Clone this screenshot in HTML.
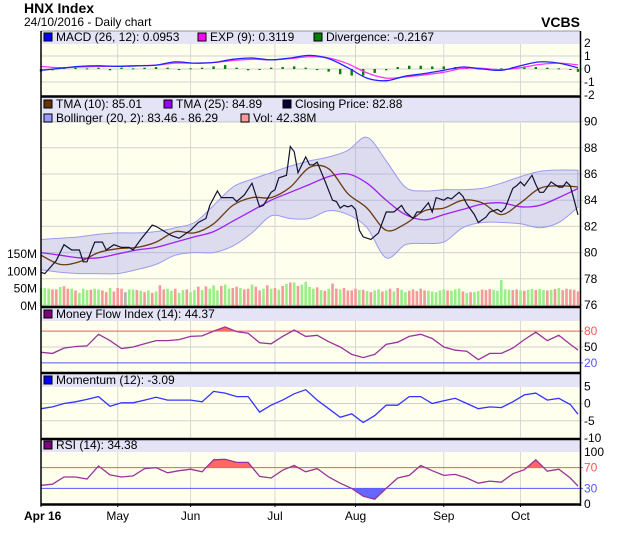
<!DOCTYPE html>
<html><head><meta charset="utf-8"><style>
html,body{margin:0;padding:0;background:#fff;}
svg{display:block;font-family:"Liberation Sans",sans-serif;}
</style></head><body>
<svg id="chart" width="620" height="535" viewBox="0 0 620 535" xmlns="http://www.w3.org/2000/svg">
<text x="24" y="13" font-size="14" font-weight="bold" fill="#000">HNX Index</text>
<text x="24" y="26" font-size="12" fill="#000">24/10/2016 - Daily chart</text>
<text x="580" y="27" font-size="14" font-weight="bold" text-anchor="end" fill="#000">VCBS</text>
<g id="layer"></g>
</svg>
<script>
// ---------- data ----------
const monthLabels = ["Apr 16","May","Jun","Jul","Aug","Sep","Oct"];
const monthDays = [0,20,39,61,82,105,125];
const closeDays = [0,1,4,6,8,10,11,12,14,16,17,19,21,23,24,26,29,30,34,36,38,39,41,43,44,46,47,50,51,53,55,57,58,60,61,62,64,65,66,67,69,70,71,72,74,76,77,78,79,80,81,82,83,84,86,88,90,92,94,95,97,98,99,101,102,103,105,106,107,109,110,111,113,114,116,117,119,120,121,123,124,125,126,128,129,130,131,133,135,136,137,138,139,140];
const closeVals = [78.5,78.4,79.4,80.6,80.2,80.2,79.3,79.3,80.8,80.8,80.2,80.6,80.4,80.4,80.2,81.0,82.1,82.0,81.3,81.1,81.5,81.7,82.3,82.6,83.6,84.7,84.2,84.2,83.9,84.4,85.3,83.5,83.6,84.6,84.8,85.7,85.9,88.1,87.7,86.1,87.3,86.7,86.7,86.9,85.5,84.0,83.9,83.4,83.6,83.5,83.6,83.3,81.7,81.2,81.0,81.5,83.1,83.1,83.6,83.1,82.6,83.1,83.1,83.8,83.1,84.2,84.0,84.2,84.1,84.6,84.3,83.7,82.9,82.3,82.7,83.1,83.3,83.1,83.4,84.9,85.1,85.4,85.1,85.9,85.2,84.6,84.6,85.4,85.0,85.0,85.4,85.1,84.0,82.88];
// sampled every 5 trading days (day 0..140)
const tma10 = [79.8,79.1,79.3,80.0,80.3,80.4,80.8,81.6,81.5,82.2,83.6,84.2,84.2,85.0,86.5,86.4,84.5,83.4,81.7,82.2,83.2,83.4,84.0,83.8,82.9,83.8,84.9,85.1,85.01];
const tma25 = [80.0,79.8,79.6,79.6,79.9,80.2,80.4,80.8,81.2,81.6,82.4,83.2,84.0,84.6,85.2,85.8,86.0,85.3,84.0,82.9,82.5,82.9,83.3,83.7,83.8,83.5,83.6,84.2,84.89];
const bbUpper = [81.0,81.1,81.2,81.4,81.5,81.5,81.6,81.9,82.3,83.6,85.0,85.6,86.1,86.6,87.0,87.3,87.8,88.8,87.0,85.0,84.7,84.8,84.8,84.9,85.3,85.8,86.2,86.3,86.29];
const bbLower = [78.7,78.5,78.4,78.4,78.4,78.7,79.1,79.8,80.0,80.0,80.5,81.5,82.8,82.6,82.6,83.2,82.9,81.9,79.6,80.6,80.7,80.8,81.9,82.3,82.3,82.2,81.9,82.3,83.46];
const macdVals = [-0.1,0.05,0.2,0.25,0.2,0.25,0.3,0.55,0.45,0.5,0.75,0.85,0.7,0.85,1.05,0.8,0.1,-0.7,-0.9,-0.55,-0.35,-0.1,0.15,0,-0.1,0.25,0.55,0.45,0.0953];
const expVals = [0.2,0.1,0.15,0.2,0.22,0.25,0.3,0.45,0.45,0.5,0.65,0.75,0.7,0.8,0.95,0.85,0.4,-0.3,-0.7,-0.6,-0.45,-0.25,0.05,0.05,-0.05,0.1,0.35,0.45,0.3119];
// sampled every 3 trading days (day 0..138) plus last day 140
const divergenceVals = [-0.2,-0.1,0.1,0.1,0.05,0.1,-0.1,0.1,0.05,0.1,0.15,0.1,-0.05,0.05,0.1,0.2,0.3,0.1,-0.1,-0.05,0.1,0.15,0.2,0.1,0,-0.2,-0.4,-0.5,-0.5,-0.3,-0.1,0.15,0.25,0.25,0.2,0.2,0.15,0.1,0.05,-0.05,0.05,0.15,0.2,0.15,0.1,0.05,-0.05,-0.2167];
const mfiVals = [40,38,48,51,52,74,62,47,50,56,62,62,64,70,71,80,88,79,76,58,56,70,82,70,72,60,50,36,30,36,55,59,70,74,66,50,44,42,26,38,38,48,64,78,62,72,55,44.37];
const momentumVals = [-1.5,-1,0,0.5,1.2,2,-0.8,0.2,0.2,1,1.8,1,1,1,0.5,3.5,3,2,2,-2.5,-0.5,1,2.8,4,1,-1.5,-4,-3,-5.5,-3.5,-0.5,-0.5,2,2,0,0.8,1.5,0,-1.5,-1,-1.2,0.5,2.5,3,1,1.5,-0.3,-3.09];
const rsiVals = [36,38,52,52,48,73,56,52,54,68,70,60,64,67,62,85,86,80,80,53,50,65,74,62,68,52,40,30,15,9,30,50,55,74,64,55,57,50,40,44,42,58,66,85,63,67,50,34.38];
// daily volume (millions) and direction (g up, r down, n unchanged)
const volumeVals = [52,52,50,48,48,55,57,50,50,45,38,50,46,47,50,48,45,40,52,42,
52,50,40,48,48,46,44,40,45,38,42,60,48,50,44,50,38,46,48,40,
46,56,46,57,50,60,45,58,62,50,52,56,52,48,50,62,56,45,50,60,
50,52,47,58,64,68,68,58,62,70,55,50,54,46,44,50,65,50,48,52,
45,45,50,46,47,43,40,45,48,42,45,50,42,52,47,40,44,48,43,50,
45,44,42,40,45,48,45,44,48,50,42,38,40,40,43,48,46,49,47,44,
75,48,47,46,48,45,44,47,49,46,49,46,45,47,49,52,46,50,48,47,42.38];
const volumeDir = "gggrrgrrgrgggrggrrgrrrnggrgrgrgrrggrggrg"+"grgrgggrggrrgrrgrrgrgrgrgrgrggggrgrgrrgrr"+"rrgrgrggrgrgrggrrrrrgggggrgggrgrggrrrgg"+"gggrrgrggrggrgrgrr";
const macdTicks = [2,1,0,-1,-2];
const priceTicks = [90,88,86,84,82,80,78,76];
const volTicks = [150,100,50,0];
const mfiTicks = [80,50,20];
const momTicks = [5,0,-5,-10];
const rsiTicks = [100,70,30,0];

// ---------- layout ----------
const NS="http://www.w3.org/2000/svg";
const L=41, R=580, NDAYS=140;
const xDay = d => L + d*(R-2-L)/NDAYS;
const yMacd = v => 69 - v*13;
const yPrice = v => 305 - (v-76)*13.1;
const yVol = v => 306 - v*0.346;
const yMfi = v => 347 - (v-50)*0.53;
const yMom = v => 403.5 - v*3.45;
const yRsi = v => 504 - v*0.52;
const days5 = tma10.map((_,i)=>Math.min(i*5,NDAYS));
const days3 = mfiVals.map((_,i)=> i===mfiVals.length-1 ? NDAYS : i*3);
const layer=document.getElementById('layer');
function el(tag, attrs, parent){const e=document.createElementNS(NS,tag);for(const k in attrs)e.setAttribute(k,attrs[k]);(parent||layer).appendChild(e);return e;}
function linePath(days, vals, yf){return days.map((d,i)=>(i?'L':'M')+xDay(d).toFixed(1)+','+yf(vals[i]).toFixed(1)).join(' ');}
function smoothPts(days, vals, yf){
  const p=days.map((d,i)=>[xDay(d),yf(vals[i])]);
  let s='M'+p[0][0].toFixed(1)+','+p[0][1].toFixed(1);
  for(let i=0;i<p.length-1;i++){
    const p0=p[Math.max(0,i-1)],p1=p[i],p2=p[i+1],p3=p[Math.min(p.length-1,i+2)];
    const c1=[p1[0]+(p2[0]-p0[0])/6,p1[1]+(p2[1]-p0[1])/6];
    const c2=[p2[0]-(p3[0]-p1[0])/6,p2[1]-(p3[1]-p1[1])/6];
    s+=' C'+c1[0].toFixed(1)+','+c1[1].toFixed(1)+' '+c2[0].toFixed(1)+','+c2[1].toFixed(1)+' '+p2[0].toFixed(1)+','+p2[1].toFixed(1);
  }
  return s;
}
function panel(name, top, headEnd, bottom){
  const g=el('g',{});
  
  
  const bg=el('rect',{x:L,y:top,width:R-L,height:bottom-top,fill:'#ffffee'},g);
  
  
  const hb=el('rect',{x:L,y:top,width:R-L,height:headEnd-top,fill:'#e4e4f6'},g);
  
  
  return g;
}
function hgrid(g, y){el('line',{x1:L,x2:R+3,y1:y,y2:y,stroke:'#d0d0d0','stroke-width':1},g);}
function vgrid(g, top, bottom){monthDays.forEach((d,i)=>{if(i>0)el('line',{x1:xDay(d),x2:xDay(d),y1:top,y2:bottom,stroke:'#d6d6d6','stroke-width':1},g);});}
function axisLabel(txt, y, color, name){
  const t=el('text',{x:584,y:y+4,'font-size':12,fill:color||'#000'});
  t.textContent=txt;
  
  
}
function legend(g, x, y, color, label, name){
  const s=el('rect',{x:x,y:y-8,width:8,height:8,fill:color,stroke:'#000','stroke-width':1},g);
  
  
  const t=el('text',{x:x+12,y:y,'font-size':12,fill:'#000'},g);
  t.textContent=label;
  
  
}

// ---------- MACD panel ----------
const gM=panel('macd-panel',31,44,96);
vgrid(gM,44,96);
macdTicks.forEach(v=>{if(v<2&&v>-2)hgrid(gM,yMacd(v));axisLabel(String(v),yMacd(v),'#000','macd-tick-'+v);});
divergenceVals.forEach((v,i)=>{
  const x=xDay(days3[i]); const y0=yMacd(0), y1=yMacd(v);
  const b=el('rect',{x:x-1.2,y:Math.min(y0,y1),width:2.4,height:Math.max(1,Math.abs(y1-y0)),fill:'#008000'},gM);
  
  
});
let p=el('path',{d:smoothPts(days5,expVals,yMacd),fill:'none',stroke:'#ff33ff','stroke-width':1.3},gM);


p=el('path',{d:smoothPts(days5,macdVals,yMacd),fill:'none',stroke:'#2222ff','stroke-width':1.3},gM);


legend(gM,44,41,'#0000ff','MACD (26, 12): 0.0953','macd-legend');
legend(gM,198,41,'#ff00ff','EXP (9): 0.3119','exp-legend');
legend(gM,314,41,'#008000','Divergence: -0.2167','divergence-legend');

// ---------- price panel ----------
const gP=panel('price-panel',97,123,306);
vgrid(gP,123,306);
priceTicks.forEach(v=>{hgrid(gP,yPrice(v));axisLabel(String(v),yPrice(v),'#000','price-tick-'+v);});
volTicks.forEach(v=>{const t=el('text',{x:37,y:yVol(v)+4,'font-size':12,'text-anchor':'end',fill:'#000'});t.textContent=v+'M';});
volumeVals.forEach((v,i)=>{
  const c=volumeDir[i]==='g'?'#99ee88':(volumeDir[i]==='n'?'#b0b0b0':'#f59a9a');
  const b=el('rect',{x:xDay(i)-1.3,y:yVol(v),width:2.6,height:306-yVol(v),fill:c},gP);
  
  
});
const upPath=smoothPts(days5,bbUpper,yPrice);
const loRev=smoothPts(days5.slice().reverse(),bbLower.slice().reverse(),yPrice).replace(/^M/,'L');
p=el('path',{d:upPath+' '+loRev+' Z',fill:'rgba(150,150,240,0.33)',stroke:'#9a9af0','stroke-width':1},gP);


p=el('path',{d:smoothPts(days5,tma25,yPrice),fill:'none',stroke:'#a020f0','stroke-width':1.3},gP);


p=el('path',{d:smoothPts(days5,tma10,yPrice),fill:'none',stroke:'#6b3a10','stroke-width':1.3},gP);


p=el('path',{d:linePath(closeDays,closeVals,yPrice),fill:'none',stroke:'#111133','stroke-width':1.2},gP);


legend(gP,44,108,'#663300','TMA (10): 85.01','tma10-legend');
legend(gP,164,108,'#9900ff','TMA (25): 84.89','tma25-legend');
legend(gP,283,108,'#000033','Closing Price: 82.88','closing-price-legend');
legend(gP,44,122,'#9999ff','Bollinger (20, 2): 83.46 - 86.29','bollinger-legend');
legend(gP,241,122,'#ff9999','Vol: 42.38M','volume-legend');

// ---------- oscillator helper ----------
function osc(name, top, headEnd, bottom, vals, yf, ticks, color, hiLev, loLev, label, lcolor){
  const g=panel(name,top,headEnd,bottom);
  vgrid(g,headEnd,bottom);
  ticks.forEach(v=>{
    const lc = (v===hiLev)?'#ff5555':(v===loLev?'#5555ff':null);
    if(lc){const ln=el('line',{x1:L,x2:R+3,y1:yf(v),y2:yf(v),stroke:lc,'stroke-width':1},g);}
    else if(yf(v)>headEnd+1 && yf(v)<bottom-1) hgrid(g,yf(v));
    axisLabel(String(v),yf(v),lc?(v===hiLev?'#ff5555':'#5555ff'):'#000',name+'-tick-'+v);
  });
  const d=linePath(days3,vals,yf);
  if(hiLev!==null){
    const id=name+'clip';
    const cp=el('clipPath',{id:id+'h'},g); el('rect',{x:L,y:headEnd,width:R-L,height:yf(hiLev)-headEnd},cp);
    const cl=el('clipPath',{id:id+'l'},g); el('rect',{x:L,y:yf(loLev),width:R-L,height:bottom-yf(loLev)},cl);
    const fh=el('path',{d:d+' L'+xDay(NDAYS)+','+yf(hiLev)+' L'+L+','+yf(hiLev)+' Z',fill:'#ff6666','clip-path':'url(#'+id+'h)'},g);
    
    
    const fl=el('path',{d:d+' L'+xDay(NDAYS)+','+yf(loLev)+' L'+L+','+yf(loLev)+' Z',fill:'#6666ff','clip-path':'url(#'+id+'l)'},g);
    
    
  }
  const ln=el('path',{d:d,fill:'none',stroke:color,'stroke-width':1.3},g);
  
  
  legend(g,44,headEnd-3,lcolor,label,name+'-legend');
}
osc('mfi-panel',308,321,373,mfiVals,yMfi,mfiTicks,'#993399',80,20,'Money Flow Index (14): 44.37','#800080');
osc('momentum-panel',374,387,439,momentumVals,yMom,momTicks,'#3333ff',null,null,'Momentum (12): -3.09','#0000ff');
osc('rsi-panel',440,452,504,rsiVals,yRsi,rsiTicks,'#993399',70,30,'RSI (14): 34.38','#800080');

// ---------- frame lines ----------
[[31,1,'#999']].forEach(a=>el('line',{x1:L,x2:R,y1:a[0],y2:a[0],stroke:a[2],'stroke-width':a[1]}));
[96.5,307,373,439,504.5].forEach(y=>{const s=el('line',{x1:L,x2:R,y1:y,y2:y,stroke:'#000','stroke-width':2.5});});
el('line',{x1:L,x2:L,y1:31,y2:506,stroke:'#000','stroke-width':1.5});
el('line',{x1:R+0.5,x2:R+0.5,y1:31,y2:506,stroke:'#000','stroke-width':1.5});
// x axis labels
monthDays.forEach((d,i)=>{
  el('line',{x1:xDay(d),x2:xDay(d),y1:504,y2:507,stroke:'#000'});
  const t=el('text',{x:i===0?24:xDay(d),y:520,'font-size':12,'text-anchor':i===0?'start':'middle','font-weight':i===0?'bold':'normal',fill:'#000'});
  t.textContent=monthLabels[i];
  
  
});
</script>
</body></html>
